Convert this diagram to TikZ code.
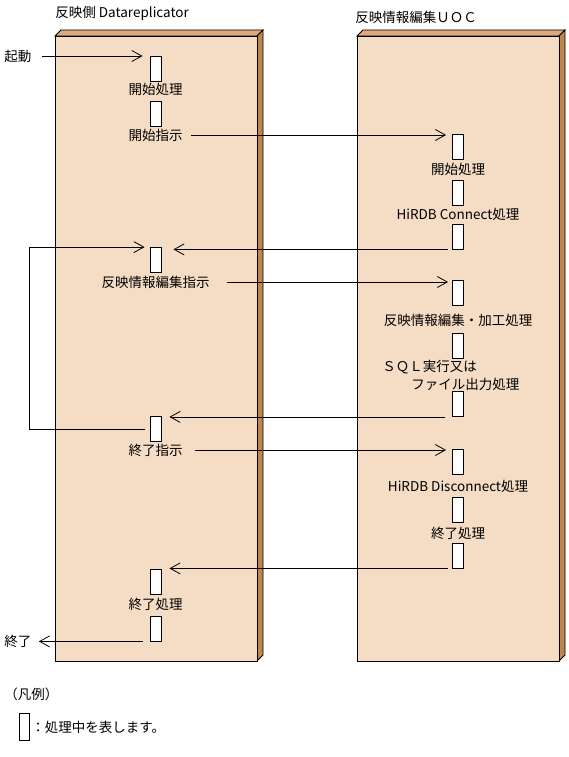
\documentclass[tikz,border=0pt]{standalone}
\usepackage{fontspec}
\setmainfont{Noto Sans CJK JP}
\usetikzlibrary{arrows.meta}
\definecolor{paneface}{HTML}{F5DCC5}
\definecolor{panetop}{HTML}{DDAA80}
\definecolor{paneside}{HTML}{C0864F}

\begin{document}
\begin{tikzpicture}[x=1pt, y=-1pt, line width=0.8pt,
  font=\fontsize{13.5}{16}\selectfont,
  every node/.style={inner sep=1pt},
  act/.style={draw, fill=white, minimum width=11pt, minimum height=25pt, inner sep=0pt},
  msg/.style={-{Straight Barb[length=10pt,width=11pt]}}]
\useasboundingbox (0,0) rectangle (568,757);
% panels
\foreach \x in {55,357} {
  \filldraw[fill=panetop] (\x,36) -- (\x+6,30) -- (\x+208,30) -- (\x+202,36) -- cycle;
  \filldraw[fill=paneside] (\x+202,36) -- (\x+208,30) -- (\x+208,655) -- (\x+202,661) -- cycle;
  \filldraw[fill=paneface] (\x,36) rectangle (\x+202,661);
}
\node[anchor=west] (ltitle) at (54,13) {反映側 Datareplicator};
\node[anchor=west] (rtitle) at (354,17) {反映情報編集ＵＯＣ};

% Datareplicator side
\node[act] (lb1) at (155.5,69)    {};
\node[act] (lb2) at (155.5,114)   {};
\node[act] (lb3) at (155.5,260)   {};
\node[act] (lb4) at (155.5,429)   {};
\node[act] (lb5) at (155.5,581.5) {};
\node[act] (lb6) at (155.5,628.5) {};
\node (lproc1) at (155.5,89)  {開始処理};
\node (lcmd1)  at (155.5,135) {開始指示};
\node (lcmd2)  at (155.5,282) {反映情報編集指示};
\node (lcmd3)  at (155.5,450) {終了指示};
\node (lproc2) at (155.5,604) {終了処理};
\node[anchor=west] (kido)  at (3,56)  {起動};
\node[anchor=west] (owari) at (3,641) {終了};

% UOC side
\node[act] (rb1) at (458,147)   {};
\node[act] (rb2) at (458,193)   {};
\node[act] (rb3) at (458,236.5) {};
\node[act] (rb4) at (458,292.5) {};
\node[act] (rb5) at (458,346)   {};
\node[act] (rb6) at (458,404)   {};
\node[act] (rb7) at (458,461.5) {};
\node[act] (rb8) at (458,510)   {};
\node[act] (rb9) at (458,555.5) {};
\node (rproc1) at (458,169)   {開始処理};
\node (rconn)  at (458,214)   {HiRDB Connect処理};
\node (redit)  at (458,320.5) {反映情報編集・加工処理};
\node[anchor=west] (rsql)  at (381,367) {ＳＱＬ実行又は};
\node[anchor=west] (rfile) at (410,384) {ファイル出力処理};
\node (rdisc)  at (458,486)   {HiRDB Disconnect処理};
\node (rproc2) at (458,533)   {終了処理};

% messages
\draw[msg, shorten <=9pt, shorten >=7pt] (kido.east) -- (kido.east -| lb1.west);
\draw[msg, shorten <=7pt, shorten >=6pt] (lcmd1.east) -- (lcmd1.east -| rb1.west);
\draw[msg, shorten <=4pt, shorten >=12pt] (rb3.south west) -- (rb3.south west -| lb3.east);
\draw[msg, shorten <=16pt, shorten >=4pt] (lcmd2.east) -- (lcmd2.east -| rb4.west);
\draw[msg, shorten <=7pt, shorten >=8pt] (rb6.south west) -- (rb6.south west -| lb4.east);
\draw[msg, shorten <=11pt, shorten >=6pt] (lcmd3.east) -- (lcmd3.east -| rb7.west);
\draw[msg, shorten <=4pt, shorten >=8pt] (rb9.south west) -- (rb9.south west -| lb5.east);
\draw[msg, shorten <=7pt, shorten >=6pt] (lb6.south west) -- (lb6.south west -| owari.east);
% loop back
\coordinate (loopx) at (29,0);
\draw[msg] ([xshift=-5pt]lb4.west) -- (lb4.west -| loopx) |- ([xshift=-5pt]lb3.north west);

% legend
\node[anchor=west] (hanrei) at (3,694) {（凡例）};
\node[act, minimum width=10pt, minimum height=27pt] (key) at (24,726.5) {};
\node[anchor=west] (keytext) at (30,727) {：処理中を表します。};
\end{tikzpicture}
\end{document}
